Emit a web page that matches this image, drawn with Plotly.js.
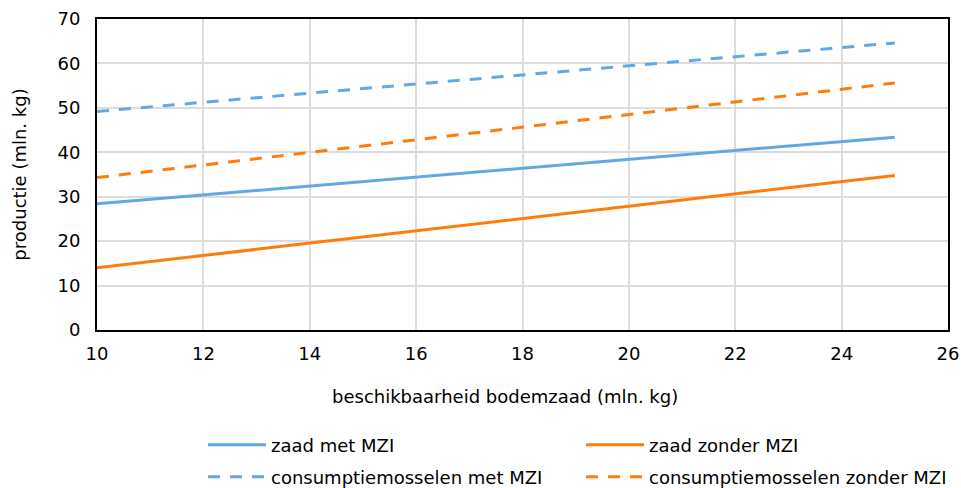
<!DOCTYPE html>
<html>
<head>
<meta charset="utf-8">
<script src="https://cdn.plot.ly/plotly-3.0.1.min.js"></script>
<style>html,body{margin:0;padding:0;background:#fff;}#chart{width:961px;height:488px;}</style>
</head>
<body>
<div id="chart"></div>
<script>
// Data
const xBodemzaad = [10, 25];
const zaadMetMZI = [28.4, 43.4];
const zaadZonderMZI = [14.0, 34.8];
const consumptieMetMZI = [49.2, 64.6];
const consumptieZonderMZI = [34.3, 55.6];

const seriesNames = ["zaad met MZI", "zaad zonder MZI", "consumptiemosselen met MZI", "consumptiemosselen zonder MZI"];
const xTicks = [10, 12, 14, 16, 18, 20, 22, 24, 26];
const yTicks = [0, 10, 20, 30, 40, 50, 60, 70];

const BLUE = "#62a8e5";
const ORANGE = "#ff7c0a";
const FONT = "DejaVu Sans, Verdana, sans-serif";
const FS = 18;
const DASH = "12px,10px";

const traces = [
  {x: xBodemzaad, y: zaadMetMZI, name: seriesNames[0], mode: "lines", line: {color: BLUE, width: 3}, legend: "legend"},
  {x: xBodemzaad, y: zaadZonderMZI, name: seriesNames[1], mode: "lines", line: {color: ORANGE, width: 3}, legend: "legend2"},
  {x: xBodemzaad, y: consumptieMetMZI, name: seriesNames[2], mode: "lines", line: {color: BLUE, width: 3, dash: DASH}, legend: "legend3"},
  {x: xBodemzaad, y: consumptieZonderMZI, name: seriesNames[3], mode: "lines", line: {color: ORANGE, width: 3, dash: DASH}, legend: "legend4"}
];

const legBase = {orientation: "v", xanchor: "left", yanchor: "middle", itemwidth: 58, font: {family: FONT, size: FS, color: "#000"}, bgcolor: "rgba(0,0,0,0)", borderwidth: 0, tracegroupgap: 0};
const plotW = 851, plotH = 311;
function lx(px) { return (px - 97) / plotW; }
function ly(py) { return (330 - py) / plotH; }

const layout = {
  width: 961, height: 488,
  margin: {l: 97, r: 13, t: 19, b: 158, autoexpand: false},
  paper_bgcolor: "#fff", plot_bgcolor: "#fff",
  font: {family: FONT, size: FS, color: "#000"},
  showlegend: true,
  xaxis: {
    range: [10, 26], tickvals: xTicks, ticktext: xTicks.map(String),
    showgrid: true, gridcolor: "#dcdcdc", gridwidth: 2,
    showline: true, linecolor: "#000", linewidth: 2, mirror: true,
    zeroline: false, ticks: "outside", ticklen: 6, tickcolor: "rgba(0,0,0,0)",
    tickfont: {family: FONT, size: FS, color: "#000"}
  },
  yaxis: {
    range: [0, 70], tickvals: yTicks, ticktext: yTicks.map(String),
    showgrid: true, gridcolor: "#dcdcdc", gridwidth: 2,
    showline: true, linecolor: "#000", linewidth: 2, mirror: true,
    zeroline: false, ticks: "outside", ticklen: 11, tickcolor: "rgba(0,0,0,0)",
    tickfont: {family: FONT, size: FS, color: "#000"},
    title: {text: "productie (mln. kg)", font: {family: FONT, size: FS, color: "#000"}, standoff: 26}
  },
  annotations: [
    {text: "beschikbaarheid bodemzaad (mln. kg)", xref: "paper", yref: "paper", x: lx(505), y: ly(396), xanchor: "center", yanchor: "middle", showarrow: false, font: {family: FONT, size: FS, color: "#000"}}
  ],
  legend: Object.assign({}, legBase, {x: lx(203), y: ly(445)}),
  legend2: Object.assign({}, legBase, {x: lx(581), y: ly(445)}),
  legend3: Object.assign({}, legBase, {x: lx(203), y: ly(477)}),
  legend4: Object.assign({}, legBase, {x: lx(581), y: ly(477)})
};

Plotly.newPlot("chart", traces, layout, {staticPlot: true, displayModeBar: false});
</script>
</body>
</html>
